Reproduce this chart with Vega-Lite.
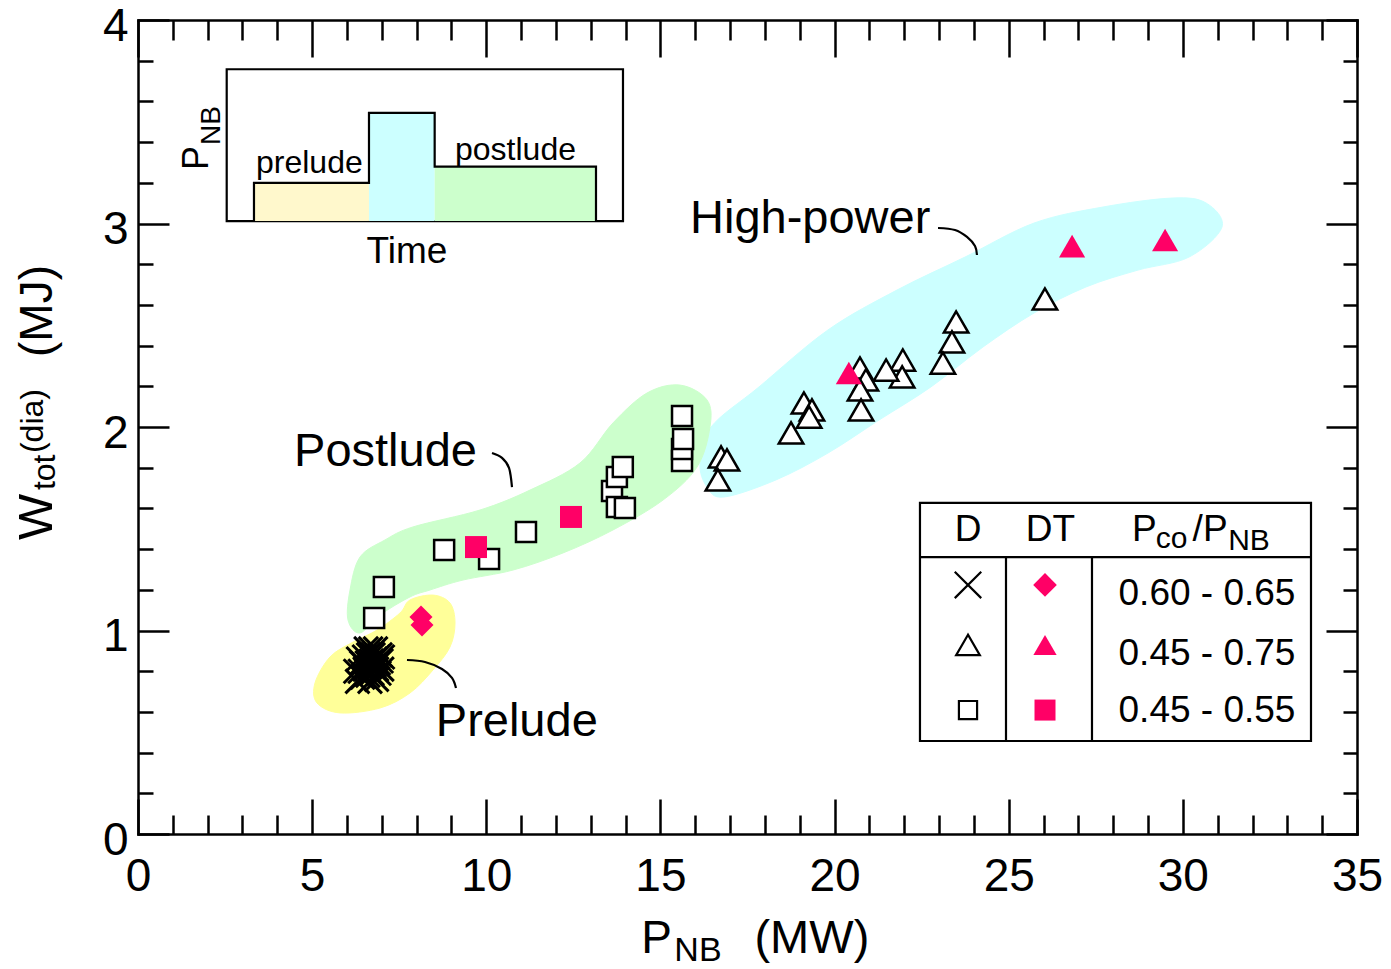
{
  "$schema": "https://vega.github.io/schema/vega-lite/v6.json",
  "width": 1219,
  "height": 814,
  "autosize": {"type": "none"},
  "padding": {"left": 138, "top": 20, "right": 34, "bottom": 135},
  "background": "white",
  "config": {"view": {"stroke": null}, "text": {"font": "Liberation Sans", "color": "black"}},
  "datasets": {
    "blobs": [
      {"g": "hp", "i": 0, "x": 16.452, "y": 2.0},
      {"g": "hp", "i": 1, "x": 17.83, "y": 2.197},
      {"g": "hp", "i": 2, "x": 19.811, "y": 2.477},
      {"g": "hp", "i": 3, "x": 21.792, "y": 2.673},
      {"g": "hp", "i": 4, "x": 23.745, "y": 2.835},
      {"g": "hp", "i": 5, "x": 25.726, "y": 3.002},
      {"g": "hp", "i": 6, "x": 27.707, "y": 3.081},
      {"g": "hp", "i": 7, "x": 29.688, "y": 3.125},
      {"g": "hp", "i": 8, "x": 30.664, "y": 3.101},
      {"g": "hp", "i": 9, "x": 31.124, "y": 2.983},
      {"g": "hp", "i": 10, "x": 30.176, "y": 2.835},
      {"g": "hp", "i": 11, "x": 28.712, "y": 2.771},
      {"g": "hp", "i": 12, "x": 27.218, "y": 2.688},
      {"g": "hp", "i": 13, "x": 25.726, "y": 2.56},
      {"g": "hp", "i": 14, "x": 24.261, "y": 2.393},
      {"g": "hp", "i": 15, "x": 22.768, "y": 2.197},
      {"g": "hp", "i": 16, "x": 21.275, "y": 2.034},
      {"g": "hp", "i": 17, "x": 19.811, "y": 1.872},
      {"g": "hp", "i": 18, "x": 18.318, "y": 1.74},
      {"g": "hp", "i": 19, "x": 16.825, "y": 1.656},
      {"g": "hp", "i": 20, "x": 16.337, "y": 1.705},
      {"g": "hp", "i": 21, "x": 16.136, "y": 1.823},
      {"g": "post", "i": 0, "x": 6.029, "y": 1.052},
      {"g": "post", "i": 1, "x": 6.087, "y": 1.199},
      {"g": "post", "i": 2, "x": 6.374, "y": 1.361},
      {"g": "post", "i": 3, "x": 7.092, "y": 1.445},
      {"g": "post", "i": 4, "x": 7.896, "y": 1.509},
      {"g": "post", "i": 5, "x": 9.819, "y": 1.592},
      {"g": "post", "i": 6, "x": 11.255, "y": 1.69},
      {"g": "post", "i": 7, "x": 12.69, "y": 1.823},
      {"g": "post", "i": 8, "x": 13.638, "y": 2.02},
      {"g": "post", "i": 9, "x": 14.614, "y": 2.167},
      {"g": "post", "i": 10, "x": 15.562, "y": 2.206},
      {"g": "post", "i": 11, "x": 16.337, "y": 2.133},
      {"g": "post", "i": 12, "x": 16.423, "y": 2.0},
      {"g": "post", "i": 13, "x": 16.05, "y": 1.803},
      {"g": "post", "i": 14, "x": 15.074, "y": 1.641},
      {"g": "post", "i": 15, "x": 13.638, "y": 1.494},
      {"g": "post", "i": 16, "x": 12.202, "y": 1.381},
      {"g": "post", "i": 17, "x": 10.767, "y": 1.297},
      {"g": "post", "i": 18, "x": 9.331, "y": 1.248},
      {"g": "post", "i": 19, "x": 8.384, "y": 1.199},
      {"g": "post", "i": 20, "x": 7.81, "y": 1.165},
      {"g": "post", "i": 21, "x": 6.948, "y": 1.076},
      {"g": "post", "i": 22, "x": 6.374, "y": 0.988},
      {"g": "pre", "i": 0, "x": 7.81, "y": 1.15},
      {"g": "pre", "i": 1, "x": 8.47, "y": 1.174},
      {"g": "pre", "i": 2, "x": 8.958, "y": 1.135},
      {"g": "pre", "i": 3, "x": 9.102, "y": 1.037},
      {"g": "pre", "i": 4, "x": 8.958, "y": 0.919},
      {"g": "pre", "i": 5, "x": 8.47, "y": 0.806},
      {"g": "pre", "i": 6, "x": 7.81, "y": 0.693},
      {"g": "pre", "i": 7, "x": 6.948, "y": 0.619},
      {"g": "pre", "i": 8, "x": 5.8, "y": 0.595},
      {"g": "pre", "i": 9, "x": 5.139, "y": 0.644},
      {"g": "pre", "i": 10, "x": 5.082, "y": 0.742},
      {"g": "pre", "i": 11, "x": 5.513, "y": 0.87},
      {"g": "pre", "i": 12, "x": 6.173, "y": 0.943},
      {"g": "pre", "i": 13, "x": 6.862, "y": 1.002},
      {"g": "pre", "i": 14, "x": 7.522, "y": 1.086}
    ],
    "leaders": [
      {"g": "hp", "i": 0, "x": 22.97, "y": 2.978},
      {"g": "hp", "i": 1, "x": 23.457, "y": 2.968},
      {"g": "hp", "i": 2, "x": 23.802, "y": 2.934},
      {"g": "hp", "i": 3, "x": 24.032, "y": 2.889},
      {"g": "hp", "i": 4, "x": 24.089, "y": 2.845},
      {"g": "post", "i": 0, "x": 10.164, "y": 1.872},
      {"g": "post", "i": 1, "x": 10.451, "y": 1.848},
      {"g": "post", "i": 2, "x": 10.652, "y": 1.799},
      {"g": "post", "i": 3, "x": 10.738, "y": 1.705},
      {"g": "pre", "i": 0, "x": 7.723, "y": 0.855},
      {"g": "pre", "i": 1, "x": 8.24, "y": 0.845},
      {"g": "pre", "i": 2, "x": 8.728, "y": 0.811},
      {"g": "pre", "i": 3, "x": 9.015, "y": 0.767},
      {"g": "pre", "i": 4, "x": 9.13, "y": 0.717}
    ],
    "crosses": [
      {"x": 6.25, "y": 0.8}, {"x": 6.3, "y": 0.75}, {"x": 6.33, "y": 0.86}, {"x": 6.38, "y": 0.8},
      {"x": 6.42, "y": 0.84}, {"x": 6.45, "y": 0.77}, {"x": 6.5, "y": 0.87}, {"x": 6.52, "y": 0.81},
      {"x": 6.55, "y": 0.91}, {"x": 6.58, "y": 0.84}, {"x": 6.6, "y": 0.78}, {"x": 6.62, "y": 0.88},
      {"x": 6.65, "y": 0.82}, {"x": 6.68, "y": 0.91}, {"x": 6.7, "y": 0.85}, {"x": 6.72, "y": 0.79},
      {"x": 6.75, "y": 0.88}, {"x": 6.78, "y": 0.83}, {"x": 6.8, "y": 0.86}, {"x": 6.82, "y": 0.91},
      {"x": 6.85, "y": 0.81}, {"x": 6.88, "y": 0.87}, {"x": 6.9, "y": 0.84}, {"x": 6.92, "y": 0.79},
      {"x": 6.95, "y": 0.88}, {"x": 6.98, "y": 0.85}, {"x": 7.0, "y": 0.81}, {"x": 7.02, "y": 0.87},
      {"x": 6.66, "y": 0.75}, {"x": 6.85, "y": 0.76}
    ],
    "squares": [
      {"x": 6.78, "y": 1.061}, {"x": 7.06, "y": 1.214}, {"x": 8.79, "y": 1.396}, {"x": 10.08, "y": 1.351},
      {"x": 11.14, "y": 1.484}, {"x": 13.61, "y": 1.686}, {"x": 13.75, "y": 1.754}, {"x": 13.75, "y": 1.607},
      {"x": 13.92, "y": 1.803}, {"x": 13.98, "y": 1.602}, {"x": 15.62, "y": 1.833}, {"x": 15.62, "y": 1.892},
      {"x": 15.65, "y": 1.941}, {"x": 15.62, "y": 2.054}
    ],
    "triangles": [
      {"x": 26.04, "y": 2.629}, {"x": 23.49, "y": 2.516}, {"x": 23.37, "y": 2.418}, {"x": 23.11, "y": 2.314},
      {"x": 21.96, "y": 2.329}, {"x": 21.94, "y": 2.246}, {"x": 21.48, "y": 2.28}, {"x": 20.73, "y": 2.29},
      {"x": 20.9, "y": 2.231}, {"x": 20.73, "y": 2.182}, {"x": 20.76, "y": 2.084}, {"x": 19.12, "y": 2.118},
      {"x": 19.35, "y": 2.084}, {"x": 19.27, "y": 2.049}, {"x": 18.75, "y": 1.971}, {"x": 16.74, "y": 1.853},
      {"x": 16.91, "y": 1.838}, {"x": 16.65, "y": 1.74}
    ],
    "dtTri": [{"x": 26.82, "y": 2.889}, {"x": 29.49, "y": 2.919}, {"x": 20.41, "y": 2.265}],
    "dtSq": [{"x": 9.705, "y": 1.41}, {"x": 12.432, "y": 1.558}],
    "dtDia": [{"x": 8.125, "y": 1.066}, {"x": 8.154, "y": 1.027}],
    "insetSeg": [
      {"seg": "prelude", "x": 3.33, "x2": 6.632, "y": 3.012, "y2": 3.2},
      {"seg": "main", "x": 6.632, "x2": 8.518, "y": 3.012, "y2": 3.544},
      {"seg": "postlude", "x": 8.518, "x2": 13.15, "y": 3.012, "y2": 3.279}
    ],
    "insetLine": [
      {"i": 0, "x": 3.33, "y": 3.012}, {"i": 1, "x": 3.33, "y": 3.2}, {"i": 2, "x": 6.632, "y": 3.2},
      {"i": 3, "x": 6.632, "y": 3.544}, {"i": 4, "x": 8.518, "y": 3.544}, {"i": 5, "x": 8.518, "y": 3.279},
      {"i": 6, "x": 13.15, "y": 3.279}, {"i": 7, "x": 13.15, "y": 3.012}
    ],
    "legRules": [
      {"x": 22.452, "x2": 33.679, "y": 1.361, "y2": 1.361},
      {"x": 24.922, "x2": 24.922, "y": 1.361, "y2": 0.457},
      {"x": 27.391, "x2": 27.391, "y": 1.361, "y2": 0.457}
    ]
  },
  "layer": [
    {
      "data": {"name": "blobs"},
      "transform": [{"filter": "datum.g === 'hp'"}],
      "mark": {"type": "line", "interpolate": "cardinal-closed", "fill": "#ccffff", "stroke": "#ccffff", "strokeWidth": 1},
      "encoding": {
        "x": {"field": "x", "type": "quantitative", "scale": {"domain": [0, 35], "nice": false, "zero": false},
          "axis": {"orient": "bottom", "values": [0, 5, 10, 15, 20, 25, 30, 35], "format": "d", "tickSize": -35, "tickWidth": 2.5, "tickColor": "black", "domain": true, "domainColor": "black", "domainWidth": 2.5, "domainCap": "square", "labelFont": "Liberation Sans", "labelFontSize": 46, "labelColor": "black", "labelPadding": 91, "labelBaseline": "alphabetic", "labelFlush": false, "labelOverlap": false, "labelBound": false, "grid": false, "title": null}},
        "y": {"field": "y", "type": "quantitative", "scale": {"domain": [0, 4], "nice": false, "zero": false},
          "axis": {"orient": "left", "values": [0, 1, 2, 3, 4], "format": "d", "tickSize": -31, "tickWidth": 2.5, "tickColor": "black", "domain": true, "domainColor": "black", "domainWidth": 2.5, "domainCap": "square", "labelFont": "Liberation Sans", "labelFontSize": 46, "labelColor": "black", "labelPadding": 41, "labelAlign": "right", "labelBaseline": "alphabetic", "labelOffset": 20, "labelFlush": false, "labelOverlap": false, "labelBound": false, "grid": false, "title": null}},
        "order": {"field": "i", "type": "quantitative"}
      }
    },
    {
      "data": {"name": "blobs"},
      "transform": [{"filter": "datum.g === 'post'"}],
      "mark": {"type": "line", "interpolate": "cardinal-closed", "fill": "#ccffcc", "stroke": "#ccffcc", "strokeWidth": 1},
      "encoding": {
        "x": {"field": "x", "type": "quantitative", "scale": {"domain": [0, 35], "nice": false, "zero": false},
          "axis": {"orient": "bottom", "values": [1, 2, 3, 4, 6, 7, 8, 9, 11, 12, 13, 14, 16, 17, 18, 19, 21, 22, 23, 24, 26, 27, 28, 29, 31, 32, 33, 34], "tickSize": -19, "tickWidth": 2.5, "tickColor": "black", "domain": false, "labels": false, "grid": false, "title": null}},
        "y": {"field": "y", "type": "quantitative", "scale": {"domain": [0, 4], "nice": false, "zero": false},
          "axis": {"orient": "left", "values": [0.2, 0.4, 0.6, 0.8, 1.2, 1.4, 1.6, 1.8, 2.2, 2.4, 2.6, 2.8, 3.2, 3.4, 3.6, 3.8], "tickSize": -15, "tickWidth": 2.5, "tickColor": "black", "domain": false, "labels": false, "grid": false, "title": null}},
        "order": {"field": "i", "type": "quantitative"}
      }
    },
    {
      "data": {"name": "blobs"},
      "transform": [{"filter": "datum.g === 'pre'"}],
      "mark": {"type": "line", "interpolate": "cardinal-closed", "fill": "#ffff99", "stroke": "#ffff99", "strokeWidth": 1},
      "encoding": {
        "x": {"field": "x", "type": "quantitative", "scale": {"domain": [0, 35], "nice": false, "zero": false},
          "axis": {"orient": "top", "values": [0, 5, 10, 15, 20, 25, 30, 35], "tickSize": -37, "tickWidth": 2.5, "tickColor": "black", "domain": true, "domainColor": "black", "domainWidth": 2.5, "domainCap": "square", "labels": false, "grid": false, "title": null}},
        "y": {"field": "y", "type": "quantitative", "scale": {"domain": [0, 4], "nice": false, "zero": false},
          "axis": {"orient": "right", "values": [0, 1, 2, 3, 4], "tickSize": -31, "tickWidth": 2.5, "tickColor": "black", "domain": true, "domainColor": "black", "domainWidth": 2.5, "domainCap": "square", "labels": false, "grid": false, "title": null}},
        "order": {"field": "i", "type": "quantitative"}
      }
    },
    {
      "data": {"name": "leaders"},
      "mark": {"type": "line", "interpolate": "cardinal", "stroke": "black", "strokeWidth": 2.2},
      "encoding": {
        "x": {"field": "x", "type": "quantitative", "scale": {"domain": [0, 35], "nice": false, "zero": false},
          "axis": {"orient": "top", "values": [1, 2, 3, 4, 6, 7, 8, 9, 11, 12, 13, 14, 16, 17, 18, 19, 21, 22, 23, 24, 26, 27, 28, 29, 31, 32, 33, 34], "tickSize": -20, "tickWidth": 2.5, "tickColor": "black", "domain": false, "labels": false, "grid": false, "title": null}},
        "y": {"field": "y", "type": "quantitative", "scale": {"domain": [0, 4], "nice": false, "zero": false},
          "axis": {"orient": "right", "values": [0.2, 0.4, 0.6, 0.8, 1.2, 1.4, 1.6, 1.8, 2.2, 2.4, 2.6, 2.8, 3.2, 3.4, 3.6, 3.8], "tickSize": -14, "tickWidth": 2.5, "tickColor": "black", "domain": false, "labels": false, "grid": false, "title": null}},
        "detail": {"field": "g", "type": "nominal"},
        "order": {"field": "i", "type": "quantitative"}
      }
    },
    {
      "data": {"values": [{"x": 2.547, "x2": 13.925, "y": 3.012, "y2": 3.758}]},
      "mark": {"type": "rect", "fill": "white", "stroke": "black", "strokeWidth": 2.2},
      "encoding": {
        "x": {"field": "x", "type": "quantitative", "scale": {"domain": [0, 35]}, "axis": null},
        "x2": {"field": "x2"},
        "y": {"field": "y", "type": "quantitative", "scale": {"domain": [0, 4]}, "axis": null},
        "y2": {"field": "y2"}
      }
    },
    {
      "data": {"name": "insetSeg"},
      "mark": {"type": "rect", "strokeWidth": 0},
      "encoding": {
        "x": {"field": "x", "type": "quantitative", "scale": {"domain": [0, 35]}, "axis": null},
        "x2": {"field": "x2"},
        "y": {"field": "y", "type": "quantitative", "scale": {"domain": [0, 4]}, "axis": null},
        "y2": {"field": "y2"},
        "fill": {"field": "seg", "type": "nominal", "scale": {"domain": ["prelude", "main", "postlude"], "range": ["#fff8cc", "#ccffff", "#ccffcc"]}, "legend": null}
      }
    },
    {
      "data": {"name": "insetLine"},
      "mark": {"type": "line", "stroke": "black", "strokeWidth": 2.2},
      "encoding": {
        "x": {"field": "x", "type": "quantitative", "scale": {"domain": [0, 35]}, "axis": null},
        "y": {"field": "y", "type": "quantitative", "scale": {"domain": [0, 4]}, "axis": null},
        "order": {"field": "i", "type": "quantitative"}
      }
    },
    {
      "data": {"values": [{"x": 22.452, "x2": 33.679, "y": 0.457, "y2": 1.627}]},
      "mark": {"type": "rect", "fill": "white", "stroke": "black", "strokeWidth": 2.2},
      "encoding": {
        "x": {"field": "x", "type": "quantitative", "scale": {"domain": [0, 35]}, "axis": null},
        "x2": {"field": "x2"},
        "y": {"field": "y", "type": "quantitative", "scale": {"domain": [0, 4]}, "axis": null},
        "y2": {"field": "y2"}
      }
    },
    {
      "data": {"name": "legRules"},
      "mark": {"type": "rule", "stroke": "black", "strokeWidth": 2.2},
      "encoding": {
        "x": {"field": "x", "type": "quantitative", "scale": {"domain": [0, 35]}, "axis": null},
        "x2": {"field": "x2"},
        "y": {"field": "y", "type": "quantitative", "scale": {"domain": [0, 4]}, "axis": null},
        "y2": {"field": "y2"}
      }
    },
    {
      "data": {"name": "crosses"},
      "mark": {"type": "point", "shape": "M-1,-1L1,1M-1,1L1,-1", "filled": false, "stroke": "black", "strokeWidth": 3, "size": 576, "opacity": 1},
      "encoding": {
        "x": {"field": "x", "type": "quantitative", "scale": {"domain": [0, 35]}, "axis": null},
        "y": {"field": "y", "type": "quantitative", "scale": {"domain": [0, 4]}, "axis": null}
      }
    },
    {
      "data": {"name": "squares"},
      "mark": {"type": "point", "shape": "square", "fill": "white", "stroke": "black", "strokeWidth": 2.5, "size": 400, "opacity": 1, "fillOpacity": 1},
      "encoding": {
        "x": {"field": "x", "type": "quantitative", "scale": {"domain": [0, 35]}, "axis": null},
        "y": {"field": "y", "type": "quantitative", "scale": {"domain": [0, 4]}, "axis": null}
      }
    },
    {
      "data": {"name": "triangles"},
      "mark": {"type": "point", "shape": "triangle-up", "fill": "white", "stroke": "black", "strokeWidth": 2.5, "size": 600, "opacity": 1, "fillOpacity": 1},
      "encoding": {
        "x": {"field": "x", "type": "quantitative", "scale": {"domain": [0, 35]}, "axis": null},
        "y": {"field": "y", "type": "quantitative", "scale": {"domain": [0, 4]}, "axis": null}
      }
    },
    {
      "data": {"name": "dtTri"},
      "mark": {"type": "point", "shape": "triangle-up", "filled": true, "fill": "#ff0066", "strokeWidth": 0, "size": 680, "opacity": 1},
      "encoding": {
        "x": {"field": "x", "type": "quantitative", "scale": {"domain": [0, 35]}, "axis": null},
        "y": {"field": "y", "type": "quantitative", "scale": {"domain": [0, 4]}, "axis": null}
      }
    },
    {
      "data": {"name": "dtSq"},
      "mark": {"type": "point", "shape": "square", "filled": true, "fill": "#ff0066", "strokeWidth": 0, "size": 484, "opacity": 1},
      "encoding": {
        "x": {"field": "x", "type": "quantitative", "scale": {"domain": [0, 35]}, "axis": null},
        "y": {"field": "y", "type": "quantitative", "scale": {"domain": [0, 4]}, "axis": null}
      }
    },
    {
      "data": {"name": "dtDia"},
      "mark": {"type": "point", "shape": "diamond", "filled": true, "fill": "#ff0066", "strokeWidth": 0, "size": 530, "opacity": 1},
      "encoding": {
        "x": {"field": "x", "type": "quantitative", "scale": {"domain": [0, 35]}, "axis": null},
        "y": {"field": "y", "type": "quantitative", "scale": {"domain": [0, 4]}, "axis": null}
      }
    },
    {
      "data": {"values": [{"x": 23.831, "y": 1.224}]},
      "mark": {"type": "point", "shape": "M-1,-1L1,1M-1,1L1,-1", "filled": false, "stroke": "black", "strokeWidth": 2.2, "size": 700, "opacity": 1},
      "encoding": {
        "x": {"field": "x", "type": "quantitative", "scale": {"domain": [0, 35]}, "axis": null},
        "y": {"field": "y", "type": "quantitative", "scale": {"domain": [0, 4]}, "axis": null}
      }
    },
    {
      "data": {"values": [{"x": 23.831, "y": 0.929}]},
      "mark": {"type": "point", "shape": "triangle-up", "fill": "white", "stroke": "black", "strokeWidth": 2.2, "size": 560, "opacity": 1},
      "encoding": {
        "x": {"field": "x", "type": "quantitative", "scale": {"domain": [0, 35]}, "axis": null},
        "y": {"field": "y", "type": "quantitative", "scale": {"domain": [0, 4]}, "axis": null}
      }
    },
    {
      "data": {"values": [{"x": 23.831, "y": 0.609}]},
      "mark": {"type": "point", "shape": "square", "fill": "white", "stroke": "black", "strokeWidth": 2.2, "size": 330, "opacity": 1},
      "encoding": {
        "x": {"field": "x", "type": "quantitative", "scale": {"domain": [0, 35]}, "axis": null},
        "y": {"field": "y", "type": "quantitative", "scale": {"domain": [0, 4]}, "axis": null}
      }
    },
    {
      "data": {"values": [{"x": 26.042, "y": 1.224}]},
      "mark": {"type": "point", "shape": "diamond", "filled": true, "fill": "#ff0066", "strokeWidth": 0, "size": 560, "opacity": 1},
      "encoding": {
        "x": {"field": "x", "type": "quantitative", "scale": {"domain": [0, 35]}, "axis": null},
        "y": {"field": "y", "type": "quantitative", "scale": {"domain": [0, 4]}, "axis": null}
      }
    },
    {
      "data": {"values": [{"x": 26.042, "y": 0.929}]},
      "mark": {"type": "point", "shape": "triangle-up", "filled": true, "fill": "#ff0066", "strokeWidth": 0, "size": 540, "opacity": 1},
      "encoding": {
        "x": {"field": "x", "type": "quantitative", "scale": {"domain": [0, 35]}, "axis": null},
        "y": {"field": "y", "type": "quantitative", "scale": {"domain": [0, 4]}, "axis": null}
      }
    },
    {
      "data": {"values": [{"x": 26.042, "y": 0.609}]},
      "mark": {"type": "point", "shape": "square", "filled": true, "fill": "#ff0066", "strokeWidth": 0, "size": 441, "opacity": 1},
      "encoding": {
        "x": {"field": "x", "type": "quantitative", "scale": {"domain": [0, 35]}, "axis": null},
        "y": {"field": "y", "type": "quantitative", "scale": {"domain": [0, 4]}, "axis": null}
      }
    },
    {
      "data": {"values": [
        {"x": 15.85, "y": 2.953, "t": "High-power"},
        {"x": 4.48, "y": 1.808, "t": "Postlude"},
        {"x": 8.55, "y": 0.482, "t": "Prelude"},
        {"x": 17.7, "y": -0.585, "t": "(MW)"}
      ]},
      "mark": {"type": "text", "align": "left", "baseline": "alphabetic", "fontSize": 47, "font": "Liberation Sans"},
      "encoding": {
        "x": {"field": "x", "type": "quantitative", "scale": {"domain": [0, 35]}, "axis": null},
        "y": {"field": "y", "type": "quantitative", "scale": {"domain": [0, 4]}, "axis": null},
        "text": {"field": "t"}
      }
    },
    {
      "data": {"values": [{"x": 14.45, "y": -0.585, "t": "P"}]},
      "mark": {"type": "text", "align": "left", "baseline": "alphabetic", "fontSize": 46, "font": "Liberation Sans"},
      "encoding": {
        "x": {"field": "x", "type": "quantitative", "scale": {"domain": [0, 35]}, "axis": null},
        "y": {"field": "y", "type": "quantitative", "scale": {"domain": [0, 4]}, "axis": null},
        "text": {"field": "t"}
      }
    },
    {
      "data": {"values": [{"x": 15.4, "y": -0.625, "t": "NB"}]},
      "mark": {"type": "text", "align": "left", "baseline": "alphabetic", "fontSize": 34, "font": "Liberation Sans"},
      "encoding": {
        "x": {"field": "x", "type": "quantitative", "scale": {"domain": [0, 35]}, "axis": null},
        "y": {"field": "y", "type": "quantitative", "scale": {"domain": [0, 4]}, "axis": null},
        "text": {"field": "t"}
      }
    },
    {
      "data": {"values": [
        {"x": -2.469, "y": 1.445, "t": "W"}
      ]},
      "mark": {"type": "text", "align": "left", "baseline": "alphabetic", "angle": 270, "fontSize": 49, "font": "Liberation Sans"},
      "encoding": {
        "x": {"field": "x", "type": "quantitative", "scale": {"domain": [0, 35]}, "axis": null},
        "y": {"field": "y", "type": "quantitative", "scale": {"domain": [0, 4]}, "axis": null},
        "text": {"field": "t"}
      }
    },
    {
      "data": {"values": [
        {"x": -2.469, "y": 2.344, "t": "(MJ)"}
      ]},
      "mark": {"type": "text", "align": "left", "baseline": "alphabetic", "angle": 270, "fontSize": 46, "font": "Liberation Sans"},
      "encoding": {
        "x": {"field": "x", "type": "quantitative", "scale": {"domain": [0, 35]}, "axis": null},
        "y": {"field": "y", "type": "quantitative", "scale": {"domain": [0, 4]}, "axis": null},
        "text": {"field": "t"}
      }
    },
    {
      "data": {"values": [
        {"x": -2.383, "y": 1.69, "t": "tot"},
        {"x": -2.728, "y": 1.872, "t": "(dia)"}
      ]},
      "mark": {"type": "text", "align": "left", "baseline": "alphabetic", "angle": 270, "fontSize": 32, "font": "Liberation Sans"},
      "encoding": {
        "x": {"field": "x", "type": "quantitative", "scale": {"domain": [0, 35]}, "axis": null},
        "y": {"field": "y", "type": "quantitative", "scale": {"domain": [0, 4]}, "axis": null},
        "text": {"field": "t"}
      }
    },
    {
      "data": {"values": [
        {"x": 3.388, "y": 3.248, "t": "prelude"},
        {"x": 9.102, "y": 3.312, "t": "postlude"}
      ]},
      "mark": {"type": "text", "align": "left", "baseline": "alphabetic", "fontSize": 32, "font": "Liberation Sans"},
      "encoding": {
        "x": {"field": "x", "type": "quantitative", "scale": {"domain": [0, 35]}, "axis": null},
        "y": {"field": "y", "type": "quantitative", "scale": {"domain": [0, 4]}, "axis": null},
        "text": {"field": "t"}
      }
    },
    {
      "data": {"values": [{"x": 7.723, "y": 2.806, "t": "Time"}]},
      "mark": {"type": "text", "align": "center", "baseline": "alphabetic", "fontSize": 37, "font": "Liberation Sans"},
      "encoding": {
        "x": {"field": "x", "type": "quantitative", "scale": {"domain": [0, 35]}, "axis": null},
        "y": {"field": "y", "type": "quantitative", "scale": {"domain": [0, 4]}, "axis": null},
        "text": {"field": "t"}
      }
    },
    {
      "data": {"values": [{"x": 2.01, "y": 3.263, "t": "P"}]},
      "mark": {"type": "text", "align": "left", "baseline": "alphabetic", "angle": 270, "fontSize": 36, "font": "Liberation Sans"},
      "encoding": {
        "x": {"field": "x", "type": "quantitative", "scale": {"domain": [0, 35]}, "axis": null},
        "y": {"field": "y", "type": "quantitative", "scale": {"domain": [0, 4]}, "axis": null},
        "text": {"field": "t"}
      }
    },
    {
      "data": {"values": [{"x": 2.354, "y": 3.386, "t": "NB"}]},
      "mark": {"type": "text", "align": "left", "baseline": "alphabetic", "angle": 270, "fontSize": 28, "font": "Liberation Sans"},
      "encoding": {
        "x": {"field": "x", "type": "quantitative", "scale": {"domain": [0, 35]}, "axis": null},
        "y": {"field": "y", "type": "quantitative", "scale": {"domain": [0, 4]}, "axis": null},
        "text": {"field": "t"}
      }
    },
    {
      "data": {"values": [
        {"x": 23.831, "y": 1.44, "t": "D"},
        {"x": 26.2, "y": 1.44, "t": "DT"},
        {"x": 30.693, "y": 1.125, "t": "0.60 - 0.65"},
        {"x": 30.693, "y": 0.83, "t": "0.45 - 0.75"},
        {"x": 30.693, "y": 0.55, "t": "0.45 - 0.55"}
      ]},
      "mark": {"type": "text", "align": "center", "baseline": "alphabetic", "fontSize": 37, "font": "Liberation Sans"},
      "encoding": {
        "x": {"field": "x", "type": "quantitative", "scale": {"domain": [0, 35]}, "axis": null},
        "y": {"field": "y", "type": "quantitative", "scale": {"domain": [0, 4]}, "axis": null},
        "text": {"field": "t"}
      }
    },
    {
      "data": {"values": [
        {"x": 28.54, "y": 1.44, "t": "P"},
        {"x": 30.28, "y": 1.44, "t": "/P"}
      ]},
      "mark": {"type": "text", "align": "left", "baseline": "alphabetic", "fontSize": 37, "font": "Liberation Sans"},
      "encoding": {
        "x": {"field": "x", "type": "quantitative", "scale": {"domain": [0, 35]}, "axis": null},
        "y": {"field": "y", "type": "quantitative", "scale": {"domain": [0, 4]}, "axis": null},
        "text": {"field": "t"}
      }
    },
    {
      "data": {"values": [
        {"x": 29.22, "y": 1.405, "t": "co"},
        {"x": 31.3, "y": 1.396, "t": "NB"}
      ]},
      "mark": {"type": "text", "align": "left", "baseline": "alphabetic", "fontSize": 30, "font": "Liberation Sans"},
      "encoding": {
        "x": {"field": "x", "type": "quantitative", "scale": {"domain": [0, 35]}, "axis": null},
        "y": {"field": "y", "type": "quantitative", "scale": {"domain": [0, 4]}, "axis": null},
        "text": {"field": "t"}
      }
    }
  ],
  "resolve": {"axis": {"x": "independent", "y": "independent"}}
}
